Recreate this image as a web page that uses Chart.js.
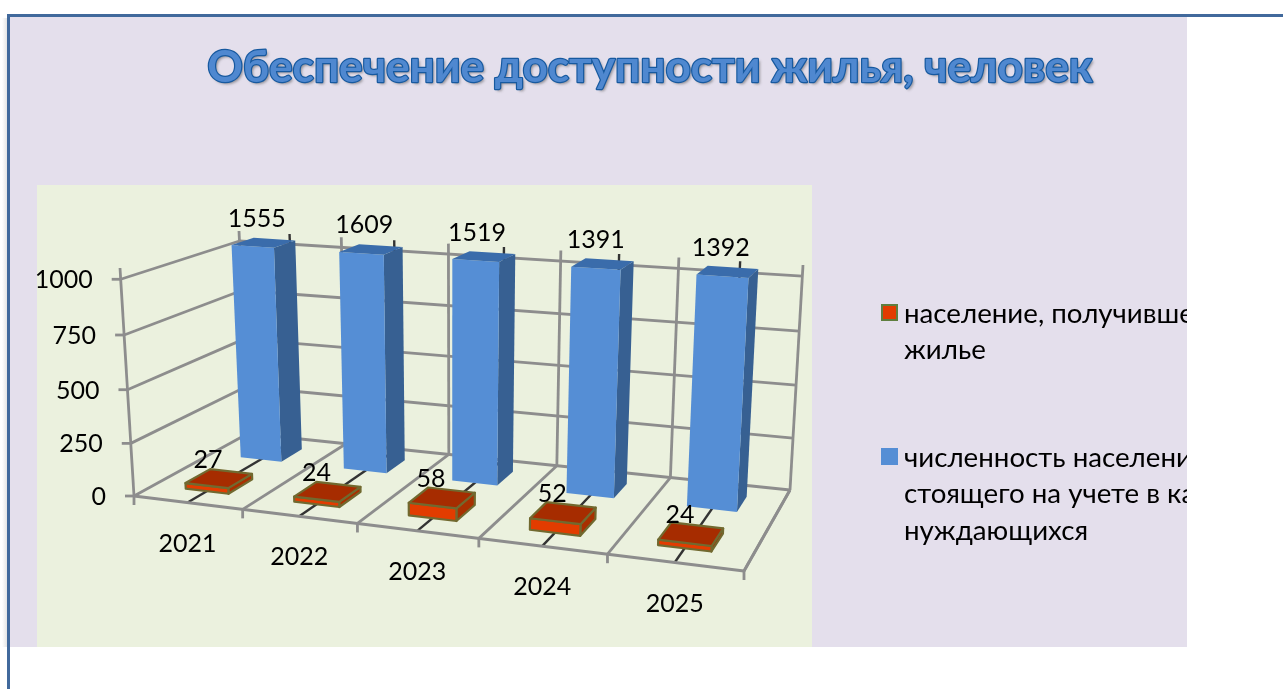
<!DOCTYPE html>
<html>
<head>
<meta charset="utf-8">
<style>
  html, body { margin: 0; padding: 0; background: #fff; }
  canvas { display: block; }
</style>
<script src="https://cdn.jsdelivr.net/npm/chart.js@4"></script>
</head>
<body>
<canvas id="myChart" width="1283" height="689"></canvas>
<script>
var categories = ["2021", "2022", "2023", "2024", "2025"];
var received = [27, 24, 58, 52, 24];
var waiting = [1555, 1609, 1519, 1391, 1392];
var yTicks = [0, 250, 500, 750, 1000];
var titleText = "Обеспечение доступности жилья, человек";
var legendLines = [
  ["население, получившее", "жилье"],
  ["численность населения,", "стоящего на учете в качестве", "нуждающихся"]
];

var FONT = 'Lato, "Open Sans", sans-serif';

// corners of the 3d box on the screen: front left, front right, back right, back left
var floorQuad = [[134, 496], [744, 571], [790, 490], [248, 433.5]];
var roofQuad = [[120, 268], [757, 313], [803, 265], [239, 231]];

// maps the unit square on a quad
function makeHomography(q) {
  var x0 = q[0][0], y0 = q[0][1], x1 = q[1][0], y1 = q[1][1];
  var x2 = q[2][0], y2 = q[2][1], x3 = q[3][0], y3 = q[3][1];
  var dx1 = x1 - x2, dx2 = x3 - x2, sx = x0 - x1 + x2 - x3;
  var dy1 = y1 - y2, dy2 = y3 - y2, sy = y0 - y1 + y2 - y3;
  var den = dx1 * dy2 - dx2 * dy1;
  var g = (sx * dy2 - dx2 * sy) / den;
  var h = (dx1 * sy - sx * dy1) / den;
  var a = x1 - x0 + g * x1, b = x3 - x0 + h * x3;
  var d = y1 - y0 + g * y1, e = y3 - y0 + h * y3;
  return function (u, v) {
    var w = g * u + h * v + 1;
    return [(a * u + b * v + x0) / w, (d * u + e * v + y0) / w];
  };
}
var floorMap = makeHomography(floorQuad);
var roofMap = makeHomography(roofQuad);

function project(u, v, h) {
  var f = floorMap(u, v), t = roofMap(u, v);
  // small bend: the upper part of the wall looks a bit taller
  var k = h - 0.04 * h * (1 - h);
  return [f[0] + (t[0] - f[0]) * k, f[1] + (t[1] - f[1]) * k];
}

function line(ctx, a, b, color, width) {
  ctx.beginPath();
  ctx.moveTo(a[0], a[1]);
  ctx.lineTo(b[0], b[1]);
  ctx.strokeStyle = color;
  ctx.lineWidth = width;
  ctx.stroke();
}

function face(ctx, pts, fill, stroke) {
  ctx.beginPath();
  pts.forEach(function (p, i) {
    if (i == 0) ctx.moveTo(p[0], p[1]); else ctx.lineTo(p[0], p[1]);
  });
  ctx.closePath();
  ctx.fillStyle = fill;
  ctx.fill();
  if (stroke) {
    ctx.strokeStyle = stroke;
    ctx.lineWidth = 2.2;
    ctx.lineJoin = "round";
    ctx.stroke();
  }
}

function heightOf(chart, px) {
  var a = chart.chartArea;
  return Math.min(1, (a.bottom - px) / (a.bottom - a.top));
}

var box3d = {
  id: "box3d",
  beforeDraw: function (chart) {
    var ctx = chart.ctx;
    ctx.save();
    ctx.fillStyle = "#ffffff";
    ctx.fillRect(0, 0, chart.width, chart.height);
    var shade = ctx.createLinearGradient(2, 0, 8, 0);
    shade.addColorStop(0, "rgba(150,150,150,0)");
    shade.addColorStop(1, "rgba(150,150,150,0.3)");
    ctx.fillStyle = shade;
    ctx.fillRect(2, 18, 6, 629);
    ctx.fillStyle = "#e4dfec";
    ctx.fillRect(7, 15, 1180, 632);
    ctx.fillStyle = "#ebf1de";
    ctx.fillRect(37, 185, 775, 462);
    ctx.fillStyle = "#41699c";
    ctx.fillRect(7, 14, 1276, 3);
    ctx.fillRect(7, 14, 3, 675);

    // title
    ctx.font = "bold 44.2px " + FONT;
    ctx.textAlign = "center";
    ctx.textBaseline = "alphabetic";
    ctx.shadowColor = "rgba(70,70,70,0.55)";
    ctx.shadowBlur = 3;
    ctx.shadowOffsetX = 2;
    ctx.shadowOffsetY = 2;
    ctx.fillStyle = "#4f88d0";
    ctx.fillText(titleText, 650, 82);
    ctx.shadowColor = "transparent";
    ctx.strokeStyle = "#17599f";
    ctx.lineWidth = 2.4;
    ctx.lineJoin = "round";
    ctx.strokeText(titleText, 650, 82);
    ctx.fillStyle = "#4f88d0";
    ctx.fillText(titleText, 650, 82);
    ctx.restore();
  },
  beforeDatasetsDraw: function (chart) {
    var ctx = chart.ctx, grey = "#8d8d8d", a = chart.chartArea;
    var xs = chart.scales.x, ys = chart.scales.y;
    ctx.save();
    ctx.lineCap = "butt";

    // horizontal grid on left and back walls
    ys.ticks.forEach(function (t) {
      var h = heightOf(chart, ys.getPixelForValue(t.value));
      var p = project(0, 0, h);
      line(ctx, [p[0] - 9, p[1]], p, grey, 2.8);
      line(ctx, p, project(0, 1, h), grey, 2.8);
      line(ctx, project(0, 1, h), project(1, 1, h), grey, 2.8);
      ctx.fillStyle = "#000";
      ctx.font = "25px " + FONT;
      ctx.textAlign = "right";
      ctx.textBaseline = "middle";
      ctx.fillText(String(t.value), p[0] - 28, p[1] + 1);
    });
    line(ctx, project(0, 0, 0), project(0, 0, 1), grey, 2.8);
    line(ctx, project(1, 0, 0), project(1, 1, 0), grey, 2.8);

    // category boundaries and centre lines
    xs.ticks.forEach(function (t, i) {
      var step = xs.width / xs.ticks.length;
      var cx = xs.getPixelForTick(i);
      var uc = (cx - a.left) / a.width;
      line(ctx, project(uc, 0, 0), project(uc, 1, 0), "#333333", 2.4);
      line(ctx, project(uc, 1, 0), project(uc, 1, 1), "#333333", 2.4);
      var ub = (cx + step / 2 - a.left) / a.width;
      line(ctx, project(ub, 0, 0), project(ub, 1, 0), grey, 2.8);
      line(ctx, project(ub, 1, 0), project(ub, 1, 1), grey, 2.8);
      var pb = project(ub, 0, 0);
      line(ctx, pb, [pb[0], pb[1] + 9], grey, 2.8);
      var pc = project(uc, 0, 0);
      ctx.fillStyle = "#000";
      ctx.font = "25px " + FONT;
      ctx.textAlign = "center";
      ctx.textBaseline = "middle";
      ctx.fillText(categories[i], pc[0], pc[1] + 41);
    });
    var p0 = project(0, 0, 0);
    line(ctx, [p0[0], p0[1]], [p0[0], p0[1] + 9], grey, 2.8);
    line(ctx, project(0, 1, 0), project(0, 1, 1), grey, 2.8);
    line(ctx, project(0, 0, 0), project(1, 0, 0), grey, 3);
    ctx.restore();
  },
  // the flat bar is replaced by a box built from the same element
  beforeDatasetDraw: function (chart, args) {
    var ctx = chart.ctx, a = chart.chartArea;
    var ds = chart.data.datasets[args.index];
    var meta = chart.getDatasetMeta(args.index);
    ctx.save();
    meta.data.forEach(function (bar) {
      var u0 = (bar.x - bar.width / 2 - a.left) / a.width;
      var u1 = (bar.x + bar.width / 2 - a.left) / a.width;
      var h = heightOf(chart, bar.y);
      var v0 = ds.depth[0], v1 = ds.depth[1];
      var top = [project(u0, v0, h), project(u1, v0, h), project(u1, v1, h), project(u0, v1, h)];
      var low = [project(u0, v0, 0), project(u1, v0, 0), project(u1, v1, 0)];
      face(ctx, [top[1], top[2], low[2], low[1]], ds.sideColor, ds.edgeColor);
      face(ctx, [top[0], top[1], low[1], low[0]], ds.backgroundColor, ds.edgeColor);
      face(ctx, top, ds.topColor, ds.edgeColor);
    });
    ctx.restore();
    return false;
  },
  afterDatasetsDraw: function (chart) {
    var ctx = chart.ctx, a = chart.chartArea;
    ctx.save();
    ctx.fillStyle = "#000";
    ctx.font = "25px " + FONT;
    ctx.textAlign = "center";
    ctx.textBaseline = "middle";
    chart.data.datasets.forEach(function (ds, i) {
      chart.getDatasetMeta(i).data.forEach(function (bar, j) {
        var u = (bar.x - a.left) / a.width;
        var p = project(u, (ds.depth[0] + ds.depth[1]) / 2, heightOf(chart, bar.y));
        ctx.fillText(String(ds.data[j]), p[0] + ds.labelShift[0], p[1] + ds.labelShift[1]);
      });
    });

    // legend, cut by the edge of the panel
    ctx.beginPath();
    ctx.rect(860, 280, 327, 280);
    ctx.clip();
    ctx.textAlign = "left";
    ctx.font = "27.7px " + FONT;
    var rows = [314, 458];
    chart.data.datasets.forEach(function (ds, i) {
      ctx.fillStyle = ds.backgroundColor;
      ctx.fillRect(881, rows[i] - 10, 17, 17);
      if (ds.edgeColor) {
        ctx.strokeStyle = "#5f7f3f";
        ctx.lineWidth = 2;
        ctx.strokeRect(882, rows[i] - 9, 15, 15);
      }
      ctx.fillStyle = "#000";
      legendLines[i].forEach(function (txt, k) {
        ctx.fillText(txt, 904, rows[i] + k * 36.5);
      });
    });
    ctx.restore();
  }
};

new Chart(document.getElementById("myChart"), {
  type: "bar",
  data: {
    labels: categories,
    datasets: [
      {
        label: legendLines[0].join(" "),
        data: received,
        backgroundColor: "#e23c00",
        topColor: "#a62c00",
        sideColor: "#a83000",
        edgeColor: "#71692f",
        depth: [0.16, 0.37],
        labelShift: [-11, -19]
      },
      {
        label: legendLines[1].join(" "),
        data: waiting,
        backgroundColor: "#558ed5",
        topColor: "#3a6cab",
        sideColor: "#376092",
        depth: [0.645, 0.85],
        labelShift: [-7, -24]
      }
    ]
  },
  plugins: [box3d],
  options: {
    responsive: false,
    animation: false,
    grouped: false,
    barPercentage: 0.4,
    categoryPercentage: 1,
    plugins: {
      legend: { display: false },
      title: { display: false },
      tooltip: { enabled: false }
    },
    scales: {
      x: { display: false, offset: true },
      y: {
        display: false,
        min: 0,
        max: 1050,
        afterBuildTicks: function (axis) {
          axis.ticks = yTicks.map(function (v) { return { value: v }; });
        }
      }
    }
  }
});
</script>
</body>
</html>
